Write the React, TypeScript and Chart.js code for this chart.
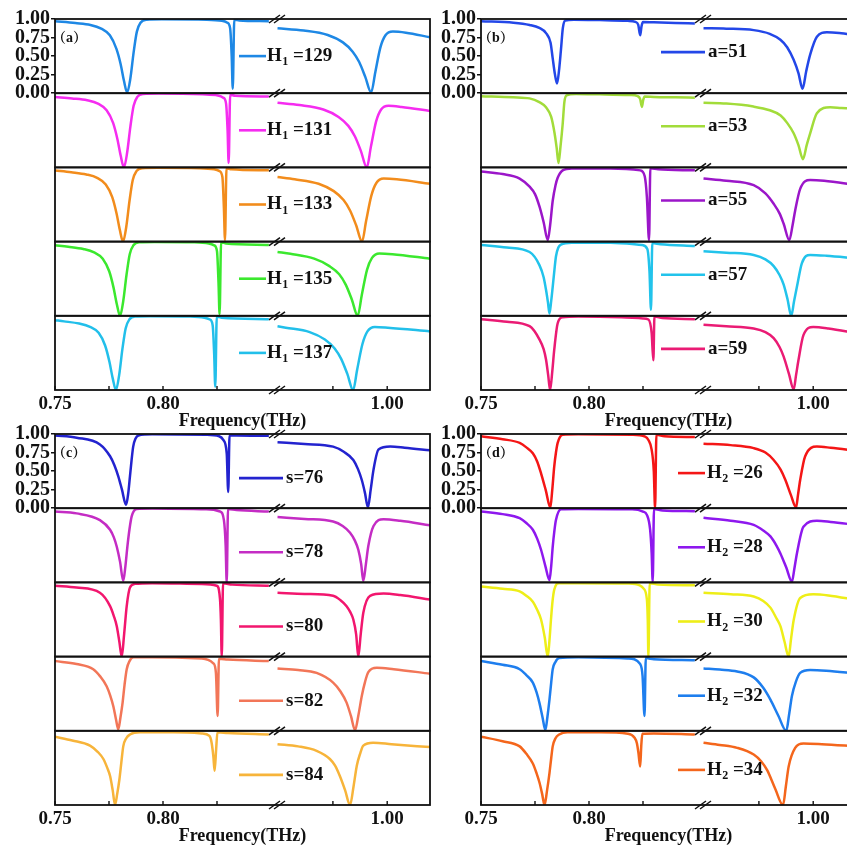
import React, { useEffect, useRef } from 'react';
import { Chart, registerables } from 'chart.js';

Chart.register(...registerables);

type Pt = [number, number];

// Broken frequency axis (THz): two segments side by side
const LEFT_MIN = 0.75;
const LEFT_MAX = 0.85;
const RIGHT_MIN = 0.9465;
const RIGHT_MAX = 1.0197;
const LEFT_TICKS = [0.75, 0.775, 0.8, 0.825];
const RIGHT_TICKS = [0.975, 1.0];
const LABELLED_TICKS = [0.75, 0.8, 1.0];
const Y_TICKS = [0, 0.25, 0.5, 0.75, 1];

// ---- (a) H1 sweep ----
const H1_VALUES = ['129', '131', '133', '135', '137'];
const A_COLORS = ['#1E88E5', '#F52CF0', '#F28C1C', '#3BE82E', '#22BFEA'];
const A1_LEFT: Pt[] = [[0.75,0.97],[0.7594,0.945],[0.7664,0.92],[0.7714,0.87],[0.7754,0.78],[0.7784,0.6],[0.7804,0.39],[0.7819,0.17],[0.7834,0.01],[0.7849,0.2],[0.7864,0.55],[0.7879,0.83],[0.7896,0.95],[0.7924,0.99],[0.7994,0.995],[0.8203,0.99],[0.8273,0.975],[0.8298,0.95],[0.8311,0.87],[0.8318,0.5],[0.8323,0.06],[0.833,0.99],[0.8353,0.98],[0.849,0.97]];
const A1_RIGHT: Pt[] = [[0.9495,0.875],[0.9616,0.845],[0.9726,0.785],[0.9796,0.685],[0.9841,0.56],[0.9871,0.42],[0.9899,0.22],[0.9926,0.01],[0.9945,0.28],[0.9969,0.62],[0.9992,0.78],[1.0026,0.83],[1.0086,0.815],[1.0197,0.755]];
const A2_LEFT: Pt[] = [[0.75,0.95],[0.7579,0.93],[0.7649,0.905],[0.7699,0.86],[0.7739,0.77],[0.7769,0.6],[0.7789,0.38],[0.7804,0.16],[0.7819,0.0],[0.7834,0.2],[0.7849,0.55],[0.7864,0.83],[0.7881,0.95],[0.7909,0.99],[0.7979,0.995],[0.8184,0.985],[0.8254,0.97],[0.8279,0.94],[0.8292,0.86],[0.8299,0.5],[0.8304,0.06],[0.8311,0.98],[0.8334,0.965],[0.849,0.955]];
const A2_RIGHT: Pt[] = [[0.9495,0.87],[0.9596,0.84],[0.9706,0.78],[0.9776,0.68],[0.9821,0.56],[0.9851,0.42],[0.9879,0.22],[0.9906,0.0],[0.9925,0.28],[0.9949,0.62],[0.9972,0.78],[1.0006,0.83],[1.0066,0.815],[1.0197,0.76]];
const A3_LEFT: Pt[] = [[0.75,0.96],[0.7575,0.935],[0.7645,0.905],[0.7695,0.86],[0.7735,0.77],[0.7765,0.6],[0.7785,0.38],[0.78,0.16],[0.7815,0.0],[0.783,0.2],[0.7845,0.55],[0.786,0.83],[0.7877,0.95],[0.7905,0.99],[0.7975,0.995],[0.8167,0.99],[0.8237,0.975],[0.8262,0.95],[0.8275,0.87],[0.8282,0.45],[0.8287,0.02],[0.8294,0.99],[0.8317,0.975],[0.849,0.96]];
const A3_RIGHT: Pt[] = [[0.9495,0.87],[0.9574,0.84],[0.9684,0.78],[0.9754,0.68],[0.9799,0.56],[0.9829,0.42],[0.9857,0.22],[0.9884,0.0],[0.9903,0.28],[0.9927,0.62],[0.995,0.79],[0.9984,0.85],[1.0044,0.84],[1.0197,0.78]];
const A4_LEFT: Pt[] = [[0.75,0.95],[0.7561,0.93],[0.7631,0.9],[0.7681,0.855],[0.7721,0.77],[0.7751,0.6],[0.7771,0.38],[0.7786,0.16],[0.7801,0.0],[0.7816,0.2],[0.7831,0.55],[0.7846,0.83],[0.7863,0.95],[0.7891,0.99],[0.7961,0.995],[0.8142,0.99],[0.8212,0.975],[0.8237,0.95],[0.825,0.87],[0.8257,0.45],[0.8262,0.02],[0.8269,0.99],[0.8292,0.975],[0.849,0.955]];
const A4_RIGHT: Pt[] = [[0.9495,0.86],[0.9554,0.835],[0.9664,0.77],[0.9734,0.67],[0.9779,0.56],[0.9809,0.42],[0.9837,0.22],[0.9864,0.0],[0.9883,0.28],[0.9907,0.62],[0.993,0.78],[0.9964,0.84],[1.0024,0.83],[1.0197,0.77]];
const A5_LEFT: Pt[] = [[0.75,0.94],[0.7542,0.925],[0.7612,0.895],[0.7662,0.85],[0.7702,0.77],[0.7732,0.6],[0.7752,0.38],[0.7767,0.16],[0.7782,0.0],[0.7797,0.2],[0.7812,0.55],[0.7827,0.83],[0.7844,0.95],[0.7872,0.99],[0.7942,0.995],[0.8122,0.99],[0.8192,0.975],[0.8217,0.95],[0.823,0.87],[0.8237,0.48],[0.8242,0.045],[0.8249,0.99],[0.8272,0.975],[0.849,0.955]];
const A5_RIGHT: Pt[] = [[0.9495,0.86],[0.9533,0.84],[0.9643,0.78],[0.9713,0.68],[0.9758,0.56],[0.9788,0.42],[0.9816,0.22],[0.9843,0.0],[0.9862,0.28],[0.9886,0.62],[0.9909,0.79],[0.9943,0.85],[1.0003,0.84],[1.0197,0.79]];

// ---- (b) a sweep ----
const A_VALUES = ['51', '53', '55', '57', '59'];
const B_COLORS = ['#2347E8', '#A2DC3A', '#9B16C9', '#22C3EB', '#EA1B74'];
const B1_LEFT: Pt[] = [[0.75,0.97],[0.765,0.95],[0.7725,0.92],[0.777,0.88],[0.7801,0.81],[0.7822,0.68],[0.7832,0.47],[0.7842,0.26],[0.7852,0.13],[0.7861,0.3],[0.787,0.58],[0.7879,0.88],[0.789,0.98],[0.793,0.99],[0.805,0.985],[0.818,0.975],[0.8215,0.96],[0.8228,0.92],[0.8237,0.78],[0.8243,0.9],[0.825,0.96],[0.83,0.955],[0.84,0.945],[0.849,0.94]];
const B1_RIGHT: Pt[] = [[0.9495,0.875],[0.96,0.87],[0.9726,0.85],[0.98,0.8],[0.9849,0.72],[0.988,0.62],[0.991,0.45],[0.9932,0.27],[0.9951,0.06],[0.9968,0.3],[0.9986,0.52],[1.0017,0.76],[1.0063,0.82],[1.012,0.81],[1.0197,0.78]];
const B2_LEFT: Pt[] = [[0.75,0.96],[0.765,0.945],[0.7725,0.93],[0.777,0.88],[0.7801,0.81],[0.7825,0.68],[0.784,0.47],[0.785,0.27],[0.7859,0.06],[0.7868,0.28],[0.7878,0.58],[0.7886,0.88],[0.7896,0.97],[0.794,0.99],[0.805,0.985],[0.819,0.975],[0.8225,0.96],[0.8237,0.92],[0.8245,0.815],[0.8251,0.91],[0.8258,0.955],[0.83,0.95],[0.84,0.945],[0.849,0.94]];
const B2_RIGHT: Pt[] = [[0.9495,0.87],[0.96,0.86],[0.9725,0.82],[0.98,0.77],[0.985,0.7],[0.988,0.6],[0.991,0.46],[0.9932,0.3],[0.9953,0.11],[0.997,0.3],[0.9986,0.46],[1.0017,0.73],[1.0078,0.81],[1.013,0.8],[1.0197,0.79]];
const B3_LEFT: Pt[] = [[0.75,0.945],[0.76,0.91],[0.7679,0.85],[0.7725,0.74],[0.775,0.64],[0.7771,0.47],[0.779,0.26],[0.7809,0.02],[0.782,0.22],[0.7832,0.55],[0.7845,0.76],[0.7855,0.86],[0.7878,0.96],[0.792,0.985],[0.81,0.985],[0.8238,0.96],[0.8258,0.88],[0.8268,0.6],[0.8278,0.02],[0.8284,0.99],[0.832,0.975],[0.849,0.96]];
const B3_RIGHT: Pt[] = [[0.9495,0.85],[0.96,0.82],[0.9726,0.76],[0.978,0.65],[0.9818,0.51],[0.9845,0.38],[0.9864,0.24],[0.989,0.02],[0.9905,0.22],[0.9917,0.42],[0.994,0.71],[0.9986,0.83],[1.005,0.82],[1.0197,0.765]];
const B4_LEFT: Pt[] = [[0.75,0.955],[0.762,0.92],[0.7725,0.86],[0.7771,0.68],[0.779,0.52],[0.7801,0.35],[0.781,0.18],[0.7817,0.03],[0.7825,0.2],[0.7832,0.39],[0.784,0.62],[0.7847,0.8],[0.7858,0.92],[0.787,0.96],[0.792,0.985],[0.81,0.985],[0.8245,0.955],[0.827,0.9],[0.828,0.6],[0.8287,0.08],[0.8293,0.98],[0.833,0.965],[0.849,0.94]];
const B4_RIGHT: Pt[] = [[0.9495,0.87],[0.96,0.85],[0.9726,0.82],[0.978,0.76],[0.9818,0.67],[0.9845,0.55],[0.9864,0.42],[0.9882,0.22],[0.9899,0.0],[0.9912,0.2],[0.9925,0.39],[0.9948,0.71],[0.9986,0.82],[1.006,0.81],[1.0197,0.775]];
const B5_LEFT: Pt[] = [[0.75,0.955],[0.762,0.92],[0.7725,0.86],[0.7771,0.68],[0.779,0.55],[0.7801,0.41],[0.7811,0.2],[0.782,0.0],[0.783,0.25],[0.7839,0.54],[0.7855,0.9],[0.7878,0.98],[0.795,0.99],[0.815,0.98],[0.825,0.965],[0.8275,0.95],[0.829,0.77],[0.8298,0.4],[0.8303,0.99],[0.834,0.97],[0.849,0.955]];
const B5_RIGHT: Pt[] = [[0.9495,0.88],[0.96,0.86],[0.9726,0.83],[0.978,0.78],[0.9818,0.7],[0.9845,0.58],[0.9864,0.45],[0.9888,0.22],[0.991,0.01],[0.9921,0.2],[0.9932,0.4],[0.9955,0.74],[1.0,0.85],[1.007,0.83],[1.0197,0.765]];

// ---- (c) s sweep ----
const S_VALUES = ['76', '78', '80', '82', '84'];
const C_COLORS = ['#2323CF', '#C42CC4', '#F2166E', '#F27658', '#F7B43A'];
const C1_LEFT: Pt[] = [[0.75,0.98],[0.76,0.95],[0.7708,0.86],[0.7755,0.7],[0.7775,0.58],[0.7793,0.43],[0.781,0.25],[0.7829,0.045],[0.7839,0.2],[0.7847,0.43],[0.7855,0.66],[0.7862,0.83],[0.7873,0.94],[0.7886,0.98],[0.795,0.995],[0.82,0.99],[0.826,0.97],[0.8279,0.92],[0.8295,0.74],[0.8302,0.22],[0.8308,0.98],[0.834,0.98],[0.849,0.975]];
const C1_RIGHT: Pt[] = [[0.9495,0.89],[0.962,0.865],[0.9751,0.83],[0.98,0.76],[0.9844,0.65],[0.9865,0.53],[0.9883,0.38],[0.9898,0.2],[0.9911,0.01],[0.9924,0.25],[0.9937,0.52],[0.996,0.79],[1.0014,0.83],[1.008,0.815],[1.0197,0.78]];
const C2_LEFT: Pt[] = [[0.75,0.955],[0.76,0.93],[0.7708,0.84],[0.7755,0.71],[0.7772,0.61],[0.7786,0.48],[0.7801,0.28],[0.7816,0.02],[0.7826,0.22],[0.7835,0.48],[0.7845,0.72],[0.7855,0.89],[0.7878,0.99],[0.795,0.995],[0.82,0.985],[0.8264,0.955],[0.8282,0.84],[0.829,0.5],[0.8295,0.0],[0.8301,0.99],[0.834,0.975],[0.849,0.955]];
const C2_RIGHT: Pt[] = [[0.9495,0.88],[0.962,0.855],[0.9751,0.82],[0.9795,0.76],[0.9829,0.67],[0.985,0.57],[0.9867,0.44],[0.988,0.25],[0.989,0.02],[0.9902,0.25],[0.9913,0.49],[0.9937,0.76],[0.9983,0.85],[1.006,0.83],[1.0197,0.77]];
const C3_LEFT: Pt[] = [[0.75,0.955],[0.76,0.93],[0.7708,0.86],[0.7755,0.68],[0.7772,0.55],[0.7786,0.41],[0.7798,0.2],[0.7809,0.0],[0.782,0.3],[0.7832,0.68],[0.7847,0.93],[0.787,0.98],[0.795,0.99],[0.818,0.98],[0.8249,0.955],[0.8264,0.77],[0.8268,0.5],[0.8272,0.0],[0.8278,0.99],[0.832,0.97],[0.849,0.955]];
const C3_RIGHT: Pt[] = [[0.9495,0.86],[0.962,0.845],[0.9751,0.82],[0.9785,0.76],[0.9813,0.68],[0.983,0.6],[0.9844,0.5],[0.9857,0.3],[0.9867,0.0],[0.9878,0.3],[0.989,0.59],[0.9921,0.82],[0.9983,0.85],[1.006,0.83],[1.0197,0.77]];
const C4_LEFT: Pt[] = [[0.75,0.94],[0.76,0.9],[0.7677,0.83],[0.771,0.73],[0.7739,0.6],[0.7755,0.48],[0.777,0.33],[0.7782,0.16],[0.7793,0.02],[0.7803,0.18],[0.7813,0.38],[0.7822,0.62],[0.7832,0.83],[0.7845,0.94],[0.7863,0.99],[0.795,0.99],[0.818,0.975],[0.8233,0.91],[0.8245,0.78],[0.8253,0.2],[0.8259,0.97],[0.83,0.96],[0.849,0.94]];
const C4_RIGHT: Pt[] = [[0.9495,0.84],[0.959,0.82],[0.9675,0.78],[0.9751,0.65],[0.9785,0.53],[0.9813,0.38],[0.9833,0.2],[0.9852,0.01],[0.9868,0.22],[0.9883,0.47],[0.9898,0.66],[0.9913,0.79],[0.9952,0.85],[1.003,0.83],[1.0197,0.77]];
const C5_LEFT: Pt[] = [[0.75,0.92],[0.758,0.87],[0.7662,0.8],[0.77,0.71],[0.7724,0.62],[0.7742,0.5],[0.7755,0.39],[0.7767,0.2],[0.7778,0.0],[0.7788,0.15],[0.7798,0.34],[0.7807,0.57],[0.7816,0.79],[0.783,0.9],[0.7847,0.95],[0.7894,0.98],[0.805,0.98],[0.818,0.965],[0.8215,0.93],[0.8225,0.84],[0.8233,0.66],[0.8239,0.46],[0.8246,0.75],[0.8252,0.98],[0.83,0.97],[0.849,0.95]];
const C5_RIGHT: Pt[] = [[0.9495,0.82],[0.959,0.79],[0.9675,0.73],[0.9736,0.62],[0.976,0.53],[0.9782,0.39],[0.9806,0.2],[0.9829,0.0],[0.9845,0.25],[0.986,0.53],[0.9875,0.69],[0.989,0.8],[0.9935,0.84],[1.002,0.82],[1.0197,0.78]];

// ---- (d) H2 sweep ----
const H2_VALUES = ['26', '28', '30', '32', '34'];
const D_COLORS = ['#F41616', '#8E18EE', '#EEEE18', '#1E7EEE', '#F4661C'];
const D1_LEFT: Pt[] = [[0.75,0.97],[0.76,0.93],[0.7679,0.88],[0.771,0.82],[0.774,0.74],[0.776,0.63],[0.7778,0.47],[0.78,0.24],[0.7821,0.01],[0.783,0.25],[0.7839,0.56],[0.7847,0.75],[0.7855,0.88],[0.7878,0.99],[0.795,0.995],[0.82,0.99],[0.826,0.965],[0.8275,0.92],[0.829,0.79],[0.83,0.5],[0.8306,0.0],[0.8312,0.99],[0.835,0.97],[0.849,0.96]];
const D1_RIGHT: Pt[] = [[0.9495,0.87],[0.962,0.85],[0.9726,0.81],[0.978,0.75],[0.9818,0.65],[0.985,0.52],[0.9872,0.38],[0.9897,0.18],[0.9921,0.01],[0.993,0.18],[0.994,0.38],[0.9963,0.7],[1.0017,0.83],[1.008,0.815],[1.0197,0.775]];
const D2_LEFT: Pt[] = [[0.75,0.955],[0.76,0.92],[0.7679,0.865],[0.771,0.8],[0.774,0.71],[0.776,0.59],[0.7778,0.44],[0.7798,0.22],[0.7817,0.03],[0.7825,0.22],[0.7832,0.48],[0.784,0.7],[0.7847,0.84],[0.787,0.985],[0.795,0.99],[0.82,0.985],[0.825,0.955],[0.8268,0.91],[0.8283,0.71],[0.829,0.4],[0.8295,0.01],[0.8301,0.99],[0.834,0.97],[0.849,0.96]];
const D2_RIGHT: Pt[] = [[0.9495,0.87],[0.962,0.83],[0.9726,0.775],[0.977,0.7],[0.9803,0.62],[0.983,0.5],[0.9849,0.39],[0.9876,0.2],[0.9902,0.01],[0.9913,0.18],[0.9925,0.39],[0.9955,0.75],[1.0017,0.83],[1.008,0.815],[1.0197,0.775]];
const D3_LEFT: Pt[] = [[0.75,0.945],[0.76,0.915],[0.7679,0.88],[0.771,0.82],[0.774,0.74],[0.776,0.63],[0.7778,0.5],[0.7795,0.26],[0.7809,0.0],[0.7817,0.22],[0.7824,0.5],[0.7831,0.74],[0.7839,0.9],[0.7862,0.99],[0.795,0.99],[0.818,0.985],[0.8235,0.96],[0.8252,0.92],[0.8268,0.77],[0.8272,0.5],[0.8275,0.0],[0.8281,0.99],[0.832,0.97],[0.849,0.96]];
const D3_RIGHT: Pt[] = [[0.9495,0.86],[0.962,0.84],[0.9726,0.81],[0.977,0.75],[0.9803,0.66],[0.983,0.52],[0.9849,0.41],[0.9868,0.2],[0.9887,0.0],[0.9898,0.24],[0.991,0.49],[0.994,0.79],[1.0,0.84],[1.007,0.825],[1.0197,0.765]];
const D4_LEFT: Pt[] = [[0.75,0.94],[0.76,0.89],[0.7679,0.83],[0.771,0.75],[0.774,0.65],[0.7757,0.52],[0.7771,0.37],[0.7785,0.18],[0.7798,0.01],[0.7808,0.2],[0.7817,0.42],[0.7825,0.65],[0.7832,0.83],[0.7845,0.93],[0.7862,0.98],[0.795,0.99],[0.818,0.975],[0.8237,0.9],[0.8248,0.74],[0.8257,0.2],[0.8263,0.98],[0.83,0.965],[0.849,0.95]];
const D4_RIGHT: Pt[] = [[0.9495,0.84],[0.957,0.825],[0.965,0.8],[0.9726,0.72],[0.977,0.58],[0.9803,0.42],[0.984,0.2],[0.9876,0.0],[0.9889,0.22],[0.9902,0.47],[0.992,0.66],[0.994,0.78],[0.9986,0.82],[1.006,0.81],[1.0197,0.77]];
const D5_LEFT: Pt[] = [[0.75,0.92],[0.76,0.86],[0.7679,0.79],[0.771,0.69],[0.774,0.56],[0.7757,0.43],[0.7771,0.3],[0.7783,0.15],[0.7794,0.0],[0.7806,0.2],[0.7817,0.43],[0.7825,0.63],[0.7832,0.79],[0.7845,0.9],[0.7862,0.95],[0.79,0.98],[0.805,0.98],[0.818,0.96],[0.821,0.91],[0.8222,0.83],[0.8229,0.7],[0.8237,0.52],[0.8242,0.8],[0.8247,0.96],[0.83,0.965],[0.849,0.95]];
const D5_RIGHT: Pt[] = [[0.9495,0.84],[0.957,0.81],[0.965,0.77],[0.9726,0.68],[0.976,0.59],[0.9788,0.47],[0.9825,0.22],[0.9861,0.0],[0.9874,0.25],[0.9887,0.52],[0.9917,0.77],[0.9955,0.83],[1.004,0.82],[1.0197,0.79]];

const SERIF = '"Liberation Serif", "Times New Roman", serif';
const INK = '#111111';

interface PanelDef {
  letter: string;
  symbol: string;
  sub: string;
  values: string[];
  colors: string[];
  left: Pt[][];
  right: Pt[][];
  legend: { x0: number; x1: number; tx: number; dy: number };
  pos: { left: number; top: number };
}

const PANELS: PanelDef[] = [
  {
    letter: '（a）', symbol: 'H', sub: '1', values: H1_VALUES, colors: A_COLORS,
    left: [A1_LEFT, A2_LEFT, A3_LEFT, A4_LEFT, A5_LEFT],
    right: [A1_RIGHT, A2_RIGHT, A3_RIGHT, A4_RIGHT, A5_RIGHT],
    legend: { x0: 184, x1: 211, tx: 212, dy: 0 },
    pos: { left: 0, top: 0 },
  },
  {
    letter: '（b）', symbol: 'a', sub: '', values: A_VALUES, colors: B_COLORS,
    left: [B1_LEFT, B2_LEFT, B3_LEFT, B4_LEFT, B5_LEFT],
    right: [B1_RIGHT, B2_RIGHT, B3_RIGHT, B4_RIGHT, B5_RIGHT],
    legend: { x0: 180, x1: 224, tx: 227, dy: -4 },
    pos: { left: 426, top: 0 },
  },
  {
    letter: '（c）', symbol: 's', sub: '', values: S_VALUES, colors: C_COLORS,
    left: [C1_LEFT, C2_LEFT, C3_LEFT, C4_LEFT, C5_LEFT],
    right: [C1_RIGHT, C2_RIGHT, C3_RIGHT, C4_RIGHT, C5_RIGHT],
    legend: { x0: 184, x1: 228, tx: 231, dy: 7 },
    pos: { left: 0, top: 415 },
  },
  {
    letter: '（d）', symbol: 'H', sub: '2', values: H2_VALUES, colors: D_COLORS,
    left: [D1_LEFT, D2_LEFT, D3_LEFT, D4_LEFT, D5_LEFT],
    right: [D1_RIGHT, D2_RIGHT, D3_RIGHT, D4_RIGHT, D5_RIGHT],
    legend: { x0: 197, x1: 224, tx: 226, dy: 2 },
    pos: { left: 426, top: 415 },
  },
];

const CANVAS_W = 440;
const CANVAS_H = 432;

const near = (a: number, b: number) => Math.abs(a - b) < 1e-9;

function framePlugin(panel: PanelDef) {
  return {
    id: 'panelFrame',
    afterDatasetsDraw(chart: any) {
      const { ctx, chartArea } = chart;
      const left = chartArea.left;
      const right = chartArea.right;
      const rows = [0, 1, 2, 3, 4].map((r) => chart.scales['y' + r]);
      ctx.save();

      // row frames
      ctx.strokeStyle = INK;
      ctx.lineWidth = 1.8;
      rows.forEach((s: any) => {
        ctx.strokeRect(left, s.top, right - left, s.bottom - s.top);
      });

      // inward ticks on the frequency axis
      ctx.lineWidth = 1.4;
      ['xL', 'xR'].forEach((id) => {
        const sc = chart.scales[id];
        sc.ticks.forEach((t: any) => {
          const px = sc.getPixelForValue(t.value);
          ctx.beginPath();
          ctx.moveTo(px, chartArea.bottom);
          ctx.lineTo(px, chartArea.bottom - 4);
          ctx.stroke();
        });
      });

      // axis-break marks on every row boundary
      const cx = chart.scales.xR.left + 5;
      const ys = [rows[0].top, ...rows.map((s: any) => s.bottom)];
      ctx.lineWidth = 1.5;
      ys.forEach((y: number) => {
        for (let k = 0; k < 2; k++) {
          const ox = cx + k * 5;
          ctx.beginPath();
          ctx.moveTo(ox - 7, y + 4);
          ctx.lineTo(ox + 4, y - 4);
          ctx.stroke();
        }
      });

      // legend entries, one per row
      const lg = panel.legend;
      rows.forEach((s: any, r: number) => {
        const cy = (s.top + s.bottom) / 2 + lg.dy;
        ctx.strokeStyle = panel.colors[r];
        ctx.lineWidth = 2.6;
        ctx.beginPath();
        ctx.moveTo(left + lg.x0, cy);
        ctx.lineTo(left + lg.x1, cy);
        ctx.stroke();

        ctx.fillStyle = INK;
        ctx.textAlign = 'left';
        ctx.textBaseline = 'middle';
        let x = left + lg.tx;
        ctx.font = `bold 19px ${SERIF}`;
        if (panel.sub) {
          ctx.fillText(panel.symbol, x, cy);
          x += ctx.measureText(panel.symbol).width + 0.5;
          ctx.font = `bold 12px ${SERIF}`;
          ctx.fillText(panel.sub, x, cy + 6);
          x += ctx.measureText(panel.sub).width;
          ctx.font = `bold 19px ${SERIF}`;
          ctx.fillText(' =' + panel.values[r], x, cy);
        } else {
          ctx.fillText(panel.symbol + '=' + panel.values[r], x, cy);
        }
      });

      // panel letter
      ctx.fillStyle = INK;
      ctx.font = `bold 14px "Liberation Serif", "Noto Serif CJK SC", "Noto Sans CJK SC", serif`;
      ctx.textAlign = 'left';
      ctx.textBaseline = 'middle';
      ctx.fillText(panel.letter, left - 3, rows[0].top + 19);

      ctx.restore();
    },
  };
}

function buildConfig(panel: PanelDef): any {
  const tickFont = { family: SERIF, size: 19, weight: 'bold' as const };
  const xTickLabel = (v: any) =>
    LABELLED_TICKS.some((t) => near(t, Number(v))) ? Number(v).toFixed(2) : '';
  const fitX = (s: any) => {
    s.height = 20.4;
    s.paddingLeft = 0;
    s.paddingRight = 0;
  };

  const scales: any = {
    xL: {
      type: 'linear', position: 'bottom', stack: 'freq', stackWeight: 216, weight: 1,
      min: LEFT_MIN, max: LEFT_MAX,
      afterBuildTicks: (s: any) => { s.ticks = LEFT_TICKS.map((value) => ({ value })); },
      afterFit: fitX,
      ticks: { callback: xTickLabel, autoSkip: false, maxRotation: 0, padding: 3, color: INK, font: tickFont },
      grid: { display: false, drawTicks: false },
      border: { display: false },
    },
    xR: {
      type: 'linear', position: 'bottom', stack: 'freq', stackWeight: 159, weight: 2,
      min: RIGHT_MIN, max: RIGHT_MAX,
      afterBuildTicks: (s: any) => { s.ticks = RIGHT_TICKS.map((value) => ({ value })); },
      afterFit: fitX,
      ticks: { callback: xTickLabel, autoSkip: false, maxRotation: 0, padding: 3, color: INK, font: tickFont },
      grid: { display: false, drawTicks: false },
      border: { display: false },
    },
  };

  for (let r = 0; r < 5; r++) {
    const first = r === 0;
    scales['y' + r] = {
      type: 'linear', position: 'left', stack: 'rows', stackWeight: 1, weight: 5 - r,
      min: 0, max: 1,
      afterBuildTicks: (s: any) => { s.ticks = first ? Y_TICKS.map((value) => ({ value })) : []; },
      afterFit: (s: any) => { s.width = 55; },
      ticks: {
        display: first, autoSkip: false, padding: 1, color: INK,
        font: { family: SERIF, size: 20, weight: 'bold' },
        callback: (v: any) => Number(v).toFixed(2),
      },
      grid: { display: first, drawOnChartArea: false, drawTicks: true, tickLength: 4, color: INK, lineWidth: 1.5 },
      border: { display: false },
    };
  }

  const datasets: any[] = [];
  for (let r = 0; r < 5; r++) {
    const base = {
      yAxisID: 'y' + r,
      borderColor: panel.colors[r],
      backgroundColor: panel.colors[r],
      borderWidth: 2.5,
      pointRadius: 0,
      cubicInterpolationMode: 'monotone',
      fill: false,
    };
    datasets.push({ ...base, xAxisID: 'xL', data: panel.left[r].map(([x, y]) => ({ x, y })) });
    datasets.push({ ...base, xAxisID: 'xR', data: panel.right[r].map(([x, y]) => ({ x, y })) });
  }

  return {
    type: 'line',
    data: { datasets },
    options: {
      animation: false,
      responsive: false,
      maintainAspectRatio: false,
      events: [],
      layout: { padding: { top: 19, right: 10, left: 0, bottom: 0 } },
      plugins: {
        legend: { display: false },
        tooltip: { enabled: false },
        title: {
          display: true,
          text: 'Frequency(THz)',
          position: 'bottom',
          fullSize: false,
          color: INK,
          font: { family: SERIF, size: 18, weight: 'bold' },
          padding: { top: 0, bottom: 0 },
        },
      },
      scales,
    },
    plugins: [framePlugin(panel)],
  };
}

function PanelChart({ panel }: { panel: PanelDef }) {
  const ref = useRef<HTMLCanvasElement>(null);
  useEffect(() => {
    if (!ref.current) return;
    const chart = new Chart(ref.current, buildConfig(panel));
    return () => chart.destroy();
  }, [panel]);
  return (
    <canvas
      ref={ref}
      width={CANVAS_W}
      height={CANVAS_H}
      style={{ position: 'absolute', left: panel.pos.left, top: panel.pos.top, width: CANVAS_W, height: CANVAS_H }}
    />
  );
}

export default function App() {
  return (
    <div style={{ position: 'fixed', left: 0, top: 0, width: 847, height: 850, overflow: 'hidden', background: '#ffffff' }}>
      {PANELS.map((p) => (
        <PanelChart key={p.letter} panel={p} />
      ))}
    </div>
  );
}
